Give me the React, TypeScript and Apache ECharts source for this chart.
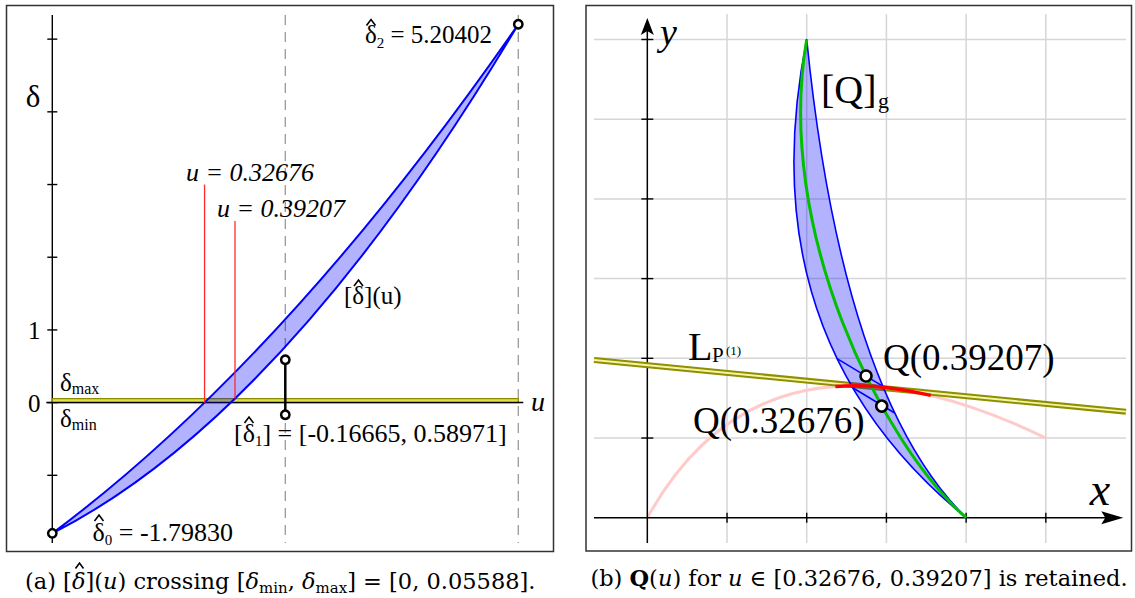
import React, { useEffect, useRef } from "react";
import * as echarts from "echarts";

const SERIF = "Liberation Serif, serif";
const DJV = "DejaVu Serif, serif";

// ---------- Panel (a): [δ̂](u) ----------
const uDomain = [0, 1];
const deltaDomain = [-1.931, 5.332];
const bernsteinU = [0, 0.5, 1];
const deltaHat0 = -1.7983;
const deltaHat1 = [-0.16665, 0.58971];
const deltaHat2 = 5.20402;
const deltaBand = [0, 0.05588];
const uCross = [0.32676, 0.39207];
const crossFoot = [0, 0.05588];
const crossTop = [3, 2.5];
const deltaTicks = [-1, 0, 1, 2, 3, 4, 5];
const deltaLabelValues = [0, 1];
const deltaLabels = ["0", "1"];
const uDashed = [0.5, 1];

// ---------- Panel (b): Q(u) in the x-y plane ----------
const xDomain = [-0.669, 6.006];
const yDomain = [-0.317, 6.32];
const gridXs = [1, 2, 3, 4, 5];
const gridYs = [1, 2, 3, 4, 5, 6];
const xAxisEnd = 5.972;
const yAxisEnd = 6.27;
const qStart = [4, 0];
const qEnd = [2, 6];
const qCtrlLeft = [1.25, 2.25];
const qCtrlRight = [2.45, 1.53];
const greenCtrl = [[4, 0], [2.946, 0.93], [1.585, 3.61], [2, 6]];
const pinkCtrl = [[0, 0], [1.5, 2.7], [5, 1]];
const redCtrl = [[2.36, 1.648], [2.914, 1.688], [3.557, 1.535]];
const lineL = [[-0.669, 1.979], [6.006, 1.33]];
const crossSegs = [
  [[2.381, 1.995], [2.953, 1.651]],
  [[2.577, 1.631], [3.104, 1.314]],
];
const qPoints = [[2.941, 1.401], [2.744, 1.778]];

const pt = (p: number[]) => `${p[0].toFixed(2)} ${p[1].toFixed(2)}`;
const seg = (a: number[], b: number[], style: any) => ({
  type: "line",
  shape: { x1: a[0], y1: a[1], x2: b[0], y2: b[1] },
  style: { fill: "none", ...style },
});
const pathEl = (d: string, style: any) => ({
  type: "path",
  shape: { pathData: d },
  style,
});
const ring = (p: number[], r: number) => ({
  type: "circle",
  shape: { cx: p[0], cy: p[1], r },
  style: { fill: "#fff", stroke: "#000", lineWidth: 2.5 },
});

const renderA = (_params: any, api: any) => {
  const c = (u: number, d: number) => api.coord([u, d]);
  const ch: any[] = [];
  uDashed.forEach((u) => {
    ch.push(seg(c(u, deltaDomain[1]), c(u, deltaDomain[0]), { stroke: "#9a9a9a", lineWidth: 1.3, lineDash: [10, 7] }));
  });
  ch.push(seg(c(0, deltaDomain[1]), c(0, deltaDomain[0]), { stroke: "#000", lineWidth: 1.4 }));
  deltaTicks.forEach((t) => {
    const p = c(0, t);
    ch.push(seg([p[0] - 5, p[1]], [p[0] + 5, p[1]], { stroke: "#000", lineWidth: 1.4 }));
  });
  deltaLabelValues.forEach((v, i) => {
    const p = c(0, v);
    ch.push({
      type: "text",
      x: p[0] - 18,
      y: p[1] + 1,
      style: { text: deltaLabels[i], fontSize: 25, fontFamily: SERIF, fill: "#000", align: "center", verticalAlign: "middle" },
    });
  });
  const b0 = c(uDomain[0], deltaBand[0]);
  const b1 = c(uDomain[1], deltaBand[0]);
  const b2 = c(uDomain[1], deltaBand[1]);
  const b3 = c(uDomain[0], deltaBand[1]);
  ch.push({ type: "polygon", shape: { points: [b0, b1, b2, b3] }, style: { fill: "#e2e24a", stroke: "#8c8c00", lineWidth: 1.3 } });
  ch.push(seg([b0[0] - 6, b0[1]], [b1[0] + 5, b1[1]], { stroke: "#000", lineWidth: 1.5 }));
  const p0 = c(bernsteinU[0], deltaHat0);
  const cu = c(bernsteinU[1], deltaHat1[1]);
  const cl = c(bernsteinU[1], deltaHat1[0]);
  const p2 = c(bernsteinU[2], deltaHat2);
  ch.push(
    pathEl(`M${pt(p0)} Q${pt(cu)} ${pt(p2)} Q${pt(cl)} ${pt(p0)} Z`, {
      fill: "rgba(0,0,255,0.3)",
      stroke: "#0000ff",
      lineWidth: 2,
      lineJoin: "round",
    })
  );
  uCross.forEach((u, i) => {
    ch.push(seg(c(u, crossFoot[i]), c(u, crossTop[i]), { stroke: "#ff2a2a", lineWidth: 1.3 }));
  });
  const m0 = c(bernsteinU[1], deltaHat1[0]);
  const m1 = c(bernsteinU[1], deltaHat1[1]);
  ch.push(seg(m0, m1, { stroke: "#000", lineWidth: 2.5 }));
  ch.push(ring(m0, 4.2));
  ch.push(ring(m1, 4.2));
  ch.push(ring(p0, 4.2));
  ch.push(ring(p2, 4.2));
  return { type: "group", children: ch };
};

const renderB = (_params: any, api: any) => {
  const c = (p: number[]) => api.coord(p);
  const ch: any[] = [];
  const gridStyle = { stroke: "#d6d6d6", lineWidth: 1.5 };
  gridXs.forEach((x) => ch.push(seg(c([x, yDomain[1]]), c([x, yDomain[0]]), gridStyle)));
  gridYs.forEach((y) => ch.push(seg(c([xDomain[0], y]), c([xDomain[1], y]), gridStyle)));
  ch.push(pathEl(`M${pt(c(pinkCtrl[0]))} Q${pt(c(pinkCtrl[1]))} ${pt(c(pinkCtrl[2]))}`, { fill: "none", stroke: "#ffcaca", lineWidth: 3 }));
  const xa = c([xDomain[0], 0]);
  const xe = c([xAxisEnd, 0]);
  ch.push(seg(xa, [xe[0] - 10, xe[1]], { stroke: "#000", lineWidth: 1.5 }));
  ch.push({
    type: "polygon",
    shape: { points: [xe, [xe[0] - 22, xe[1] - 6.5], [xe[0] - 18, xe[1]], [xe[0] - 22, xe[1] + 6.5]] },
    style: { fill: "#000" },
  });
  const ya = c([0, yDomain[0]]);
  const ye = c([0, yAxisEnd]);
  ch.push(seg(ya, [ye[0], ye[1] + 10], { stroke: "#000", lineWidth: 1.5 }));
  ch.push({
    type: "polygon",
    shape: { points: [ye, [ye[0] - 6.5, ye[1] + 17], [ye[0], ye[1] + 13], [ye[0] + 6.5, ye[1] + 17]] },
    style: { fill: "#000" },
  });
  gridXs.forEach((x) => {
    const p = c([x, 0]);
    ch.push(seg([p[0], p[1] - 5], [p[0], p[1] + 5], { stroke: "#000", lineWidth: 1.4 }));
  });
  gridYs.forEach((y) => {
    const p = c([0, y]);
    ch.push(seg([p[0] - 6, p[1]], [p[0] + 6, p[1]], { stroke: "#000", lineWidth: 1.4 }));
  });
  const l0 = c(lineL[0]);
  const l1 = c(lineL[1]);
  ch.push(seg(l0, l1, { stroke: "#8f8f00", lineWidth: 6 }));
  ch.push(seg(l0, l1, { stroke: "#f4f4a6", lineWidth: 1.8 }));
  const s = c(qStart);
  const e = c(qEnd);
  ch.push(
    pathEl(`M${pt(s)} Q${pt(c(qCtrlLeft))} ${pt(e)} Q${pt(c(qCtrlRight))} ${pt(s)} Z`, {
      fill: "rgba(0,0,255,0.3)",
      stroke: "#0000ff",
      lineWidth: 1.6,
      lineJoin: "round",
    })
  );
  crossSegs.forEach((sg) => ch.push(seg(c(sg[0]), c(sg[1]), { stroke: "#0000ff", lineWidth: 1.5 })));
  ch.push(
    pathEl(`M${pt(c(greenCtrl[0]))} C${pt(c(greenCtrl[1]))} ${pt(c(greenCtrl[2]))} ${pt(c(greenCtrl[3]))}`, {
      fill: "none",
      stroke: "#00c000",
      lineWidth: 3,
    })
  );
  ch.push(pathEl(`M${pt(c(redCtrl[0]))} Q${pt(c(redCtrl[1]))} ${pt(c(redCtrl[2]))}`, { fill: "none", stroke: "#ff0000", lineWidth: 3.5 }));
  qPoints.forEach((q) => ch.push(ring(c(q), 5.5)));
  return { type: "group", children: ch };
};

const txt = (x: number, y: number, text: string, size: number, extra: any = {}) => ({
  type: "text",
  x,
  y,
  z: 10,
  silent: true,
  style: {
    text,
    fontSize: size,
    fontFamily: extra.family || SERIF,
    fill: "#000",
    align: extra.align || "left",
    verticalAlign: "middle",
    fontStyle: extra.italic ? "italic" : "normal",
    fontWeight: extra.bold ? "bold" : "normal",
  },
});

const rtxt = (x: number, y: number, text: string, rich: any, align = "left") => ({
  type: "text",
  x,
  y,
  z: 10,
  silent: true,
  style: { text, rich, fill: "#000", align, verticalAlign: "middle", fontFamily: SERIF },
});

// circumflex accent drawn over a δ (centre x, top y)
const hat = (cx: number, top: number, w = 4.5, h = 6) => ({
  type: "polyline",
  z: 10,
  silent: true,
  shape: { points: [[cx - w, top + h], [cx, top], [cx + w, top + h]] },
  style: { stroke: "#000", lineWidth: 1.6, fill: "none", lineJoin: "miter" },
});

const mainRich = (size: number, lh: number, fam = SERIF) => ({
  m: { fontSize: size, fontFamily: fam, lineHeight: lh, fill: "#000" },
  i: { fontSize: size, fontFamily: fam, lineHeight: lh, fontStyle: "italic", fill: "#000" },
});
const subRich = (size: number, pad: number, fam = SERIF) => ({ fontSize: size, fontFamily: fam, lineHeight: size, padding: [pad, 0, 0, 0], fill: "#000" });

const graphics: any[] = [
  { type: "rect", z: 5, shape: { x: 6.5, y: 5.5, width: 547, height: 546 }, style: { fill: "none", stroke: "#333", lineWidth: 1.5 } },
  { type: "rect", z: 5, shape: { x: 586, y: 5.5, width: 545.5, height: 545.5 }, style: { fill: "none", stroke: "#333", lineWidth: 1.5 } },
  txt(33, 96, "δ", 31, { align: "center" }),
  rtxt(365, 34.5, `{m|δ}{s|2}{m| = 5.20402}`, { ...mainRich(25, 34), s: subRich(15, 17) }),
  hat(371, 19.5),
  txt(186, 172.5, "u = 0.32676", 26, { italic: true }),
  txt(217, 208.5, "u = 0.39207", 26, { italic: true }),
  rtxt(344, 295, `{m|[δ](u)}`, mainRich(25, 34)),
  hat(358.5, 280),
  rtxt(60, 382, `{m|δ}{s|max}`, { ...mainRich(25, 32), s: subRich(16, 12) }),
  rtxt(60, 418.5, `{m|δ}{s|min}`, { ...mainRich(25, 32), s: subRich(16, 12) }),
  rtxt(234, 433.5, `{m|[δ}{s|1}{m|] = [-0.16665, 0.58971]}`, { ...mainRich(26, 34), s: subRich(15, 15) }),
  hat(249, 417),
  rtxt(92.5, 532, `{m|δ}{s|0}{m| = -1.79830}`, { ...mainRich(26, 34), s: subRich(15, 15) }),
  hat(99, 515),
  txt(538, 401, "u", 28, { italic: true, align: "center" }),
  rtxt(
    25,
    581,
    `{m|(a) [}{i|δ}{m|](}{i|u}{m|) crossing [}{i|δ}{s|min}{m|, }{i|δ}{s|max}{m|] = [0, 0.05588].}`,
    { ...mainRich(22.5, 30, DJV), s: subRich(15, 13, DJV) },
    "left"
  ),
  hat(79.5, 563, 4, 5.5),
  txt(660, 32, "y", 38, { italic: true }),
  txt(1100, 489, "x", 46, { italic: true, align: "center" }),
  txt(821, 89, "[Q]", 40),
  txt(878, 100.5, "g", 22),
  txt(688, 346.4, "L", 40),
  txt(712, 354.9, "P", 21),
  txt(726, 350, "(1)", 13),
  txt(883, 357, "Q(0.39207)", 37),
  txt(693, 420, "Q(0.32676)", 37),
  rtxt(
    859,
    578,
    `{m|(b) }{b|Q}{m|(}{i|u}{m|) for }{i|u}{m| ∈ [0.32676, 0.39207] is retained.}`,
    { ...mainRich(22.5, 30, DJV), b: { fontSize: 22.5, fontFamily: DJV, fontWeight: "bold", lineHeight: 30, fill: "#000" } },
    "center"
  ),
];

export default function App() {
  const ref = useRef<HTMLDivElement>(null);
  useEffect(() => {
    const chart = echarts.init(ref.current as HTMLDivElement, null, { renderer: "svg" });
    chart.setOption({
      animation: false,
      backgroundColor: "#fff",
      grid: [
        { left: 52.3, top: 15, width: 466, height: 528 },
        { left: 594, top: 14, width: 532, height: 529 },
      ],
      xAxis: [
        { type: "value", gridIndex: 0, min: uDomain[0], max: uDomain[1], show: false },
        { type: "value", gridIndex: 1, min: xDomain[0], max: xDomain[1], show: false },
      ],
      yAxis: [
        { type: "value", gridIndex: 0, min: deltaDomain[0], max: deltaDomain[1], show: false },
        { type: "value", gridIndex: 1, min: yDomain[0], max: yDomain[1], show: false },
      ],
      series: [
        { type: "custom", xAxisIndex: 0, yAxisIndex: 0, data: [[0, 0]], renderItem: renderA, silent: true, clip: false },
        { type: "custom", xAxisIndex: 1, yAxisIndex: 1, data: [[0, 0]], renderItem: renderB, silent: true, clip: false },
      ],
      graphic: graphics,
    });
    return () => chart.dispose();
  }, []);
  return (
    <div
      ref={ref}
      style={{ position: "absolute", left: 0, top: 0, width: 1135, height: 598, background: "#fff" }}
    />
  );
}
